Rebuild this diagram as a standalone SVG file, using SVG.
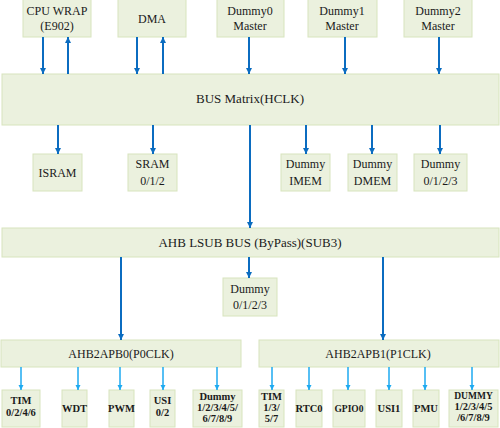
<svg xmlns="http://www.w3.org/2000/svg" width="500" height="428" viewBox="0 0 500 428">
<defs>
<style>
.b{fill:#ebf1de;stroke:#d7e4bd;stroke-width:1}
.t{font-family:"Liberation Serif",serif;font-size:12px;fill:#1a1a1a;text-anchor:middle}
.w{font-size:13px}
.s{font-family:"Liberation Serif",serif;font-size:10.5px;font-weight:bold;fill:#1a1a1a;text-anchor:middle}
.d{stroke:#0b6cc0;stroke-width:2;fill:none}
.l{stroke:#1eaaf0;stroke-width:1.5;fill:none}
</style>
<marker id="ad" viewBox="0 0 6 6" refX="6" refY="3" markerWidth="3.2" markerHeight="3.2" markerUnits="strokeWidth" orient="auto"><path d="M0,0 L6,3 L0,6 z" fill="#0b6cc0"/></marker>
<marker id="al" viewBox="0 0 6 6" refX="6" refY="3" markerWidth="3.5" markerHeight="3.5" markerUnits="strokeWidth" orient="auto"><path d="M0,0 L6,3 L0,6 z" fill="#1eaaf0"/></marker>
</defs>
<rect width="500" height="428" fill="#ffffff"/>

<g id="cpu"><rect class="b" x="23" y="-1" width="68" height="38"/><text class="t" x="57" y="15">CPU WRAP</text><text class="t" x="57" y="30">(E902)</text></g>
<g id="dma"><rect class="b" x="118" y="-1" width="68" height="38"/><text class="t" x="152" y="23">DMA</text></g>
<g id="dummy0m"><rect class="b" x="217" y="-1" width="67" height="38"/><text class="t" x="250" y="15">Dummy0</text><text class="t" x="250" y="30">Master</text></g>
<g id="dummy1m"><rect class="b" x="308" y="-1" width="69" height="38"/><text class="t" x="342" y="15">Dummy1</text><text class="t" x="342" y="30">Master</text></g>
<g id="dummy2m"><rect class="b" x="404" y="-1" width="68" height="38"/><text class="t" x="438" y="15">Dummy2</text><text class="t" x="438" y="30">Master</text></g>

<g id="busmatrix"><rect class="b" x="2" y="74" width="497" height="51"/><text class="t w" x="250" y="103">BUS Matrix(HCLK)</text></g>

<g id="isram"><rect class="b" x="33" y="154" width="49" height="37"/><text class="t" x="57.5" y="177">ISRAM</text></g>
<g id="sram"><rect class="b" x="128" y="154" width="49" height="37"/><text class="t" x="152.5" y="168">SRAM</text><text class="t" x="152.5" y="185">0/1/2</text></g>
<g id="imem"><rect class="b" x="281" y="154" width="49" height="37"/><text class="t" x="305.5" y="168">Dummy</text><text class="t" x="305.5" y="185">IMEM</text></g>
<g id="dmem"><rect class="b" x="348" y="154" width="49" height="37"/><text class="t" x="372.5" y="168">Dummy</text><text class="t" x="372.5" y="185">DMEM</text></g>
<g id="dummyslv"><rect class="b" x="414" y="154" width="53" height="37"/><text class="t" x="440.5" y="168">Dummy</text><text class="t" x="440.5" y="185">0/1/2/3</text></g>

<g id="ahblsub"><rect class="b" x="2" y="228" width="497" height="29"/><text class="t w" x="250" y="247">AHB LSUB BUS (ByPass)(SUB3)</text></g>
<g id="dummylsub"><rect class="b" x="223" y="278" width="54" height="38"/><text class="t" x="250" y="293">Dummy</text><text class="t" x="250" y="309">0/1/2/3</text></g>

<g id="apb0"><rect class="b" x="1" y="340" width="240" height="27"/><text class="t" x="121" y="358">AHB2APB0(P0CLK)</text></g>
<g id="apb1"><rect class="b" x="259" y="340" width="240" height="27"/><text class="t" x="378" y="358">AHB2APB1(P1CLK)</text></g>

<g id="tim0"><rect class="b" x="2" y="390" width="38" height="37"/><text class="s" x="21" y="404">TIM</text><text class="s" x="21" y="416">0/2/4/6</text></g>
<g id="wdt"><rect class="b" x="62" y="390" width="25" height="37"/><text class="s" x="74.5" y="412">WDT</text></g>
<g id="pwm"><rect class="b" x="109" y="390" width="25" height="37"/><text class="s" x="121.5" y="412">PWM</text></g>
<g id="usi0"><rect class="b" x="150" y="390" width="25" height="37"/><text class="s" x="162.5" y="404">USI</text><text class="s" x="162.5" y="416">0/2</text></g>
<g id="dummy0apb"><rect class="b" x="193" y="390" width="49" height="37"/><text class="s" x="217.5" y="400">Dummy</text><text class="s" x="217.5" y="411">1/2/3/4/5/</text><text class="s" x="217.5" y="422">6/7/8/9</text></g>

<g id="tim1"><rect class="b" x="259" y="390" width="25" height="37"/><text class="s" x="271.5" y="400">TIM</text><text class="s" x="271.5" y="411">1/3/</text><text class="s" x="271.5" y="422">5/7</text></g>
<g id="rtc0"><rect class="b" x="296" y="390" width="26" height="37"/><text class="s" x="309" y="412">RTC0</text></g>
<g id="gpio"><rect class="b" x="333" y="390" width="32" height="37"/><text class="s" x="349" y="412" style="font-size:9.5px">GPIO0</text></g>
<g id="usi1"><rect class="b" x="376" y="390" width="26" height="37"/><text class="s" x="389" y="412">USI1</text></g>
<g id="pmu"><rect class="b" x="413" y="390" width="26" height="37"/><text class="s" x="426" y="412">PMU</text></g>
<g id="dummy1apb"><rect class="b" x="449" y="390" width="49" height="37"/><text class="s" x="473.5" y="399" style="font-size:9.5px">DUMMY</text><text class="s" x="473.5" y="410">1/2/3/4/5</text><text class="s" x="473.5" y="421">/6/7/8/9</text></g>

<g id="connectors">
<line class="d" x1="43" y1="37" x2="43" y2="74" marker-end="url(#ad)"/>
<line class="d" x1="68" y1="74" x2="68" y2="37" marker-end="url(#ad)"/>
<line class="d" x1="137" y1="37" x2="137" y2="74" marker-end="url(#ad)"/>
<line class="d" x1="163" y1="74" x2="163" y2="37" marker-end="url(#ad)"/>
<line class="d" x1="249" y1="37" x2="249" y2="74" marker-end="url(#ad)"/>
<line class="d" x1="345" y1="37" x2="345" y2="74" marker-end="url(#ad)"/>
<line class="d" x1="439" y1="37" x2="439" y2="74" marker-end="url(#ad)"/>

<line class="d" x1="58" y1="125" x2="58" y2="154" marker-end="url(#ad)"/>
<line class="d" x1="153" y1="125" x2="153" y2="154" marker-end="url(#ad)"/>
<line class="d" x1="306" y1="125" x2="306" y2="154" marker-end="url(#ad)"/>
<line class="d" x1="372" y1="125" x2="372" y2="154" marker-end="url(#ad)"/>
<line class="d" x1="440" y1="125" x2="440" y2="154" marker-end="url(#ad)"/>
<line class="d" x1="250" y1="125" x2="250" y2="228" marker-end="url(#ad)"/>

<line class="d" x1="121" y1="257" x2="121" y2="340" marker-end="url(#ad)"/>
<line class="d" x1="249" y1="257" x2="249" y2="278" marker-end="url(#ad)"/>
<line class="d" x1="383" y1="257" x2="383" y2="340" marker-end="url(#ad)"/>

<line class="l" x1="21" y1="367" x2="21" y2="390" marker-end="url(#al)"/>
<line class="l" x1="78" y1="367" x2="78" y2="390" marker-end="url(#al)"/>
<line class="l" x1="120" y1="367" x2="120" y2="390" marker-end="url(#al)"/>
<line class="l" x1="163" y1="367" x2="163" y2="390" marker-end="url(#al)"/>
<line class="l" x1="217" y1="367" x2="217" y2="390" marker-end="url(#al)"/>
<line class="l" x1="272" y1="367" x2="272" y2="390" marker-end="url(#al)"/>
<line class="l" x1="309" y1="367" x2="309" y2="390" marker-end="url(#al)"/>
<line class="l" x1="348" y1="367" x2="348" y2="390" marker-end="url(#al)"/>
<line class="l" x1="389" y1="367" x2="389" y2="390" marker-end="url(#al)"/>
<line class="l" x1="425" y1="367" x2="425" y2="390" marker-end="url(#al)"/>
<line class="l" x1="472" y1="367" x2="472" y2="390" marker-end="url(#al)"/>
</g>
</svg>
